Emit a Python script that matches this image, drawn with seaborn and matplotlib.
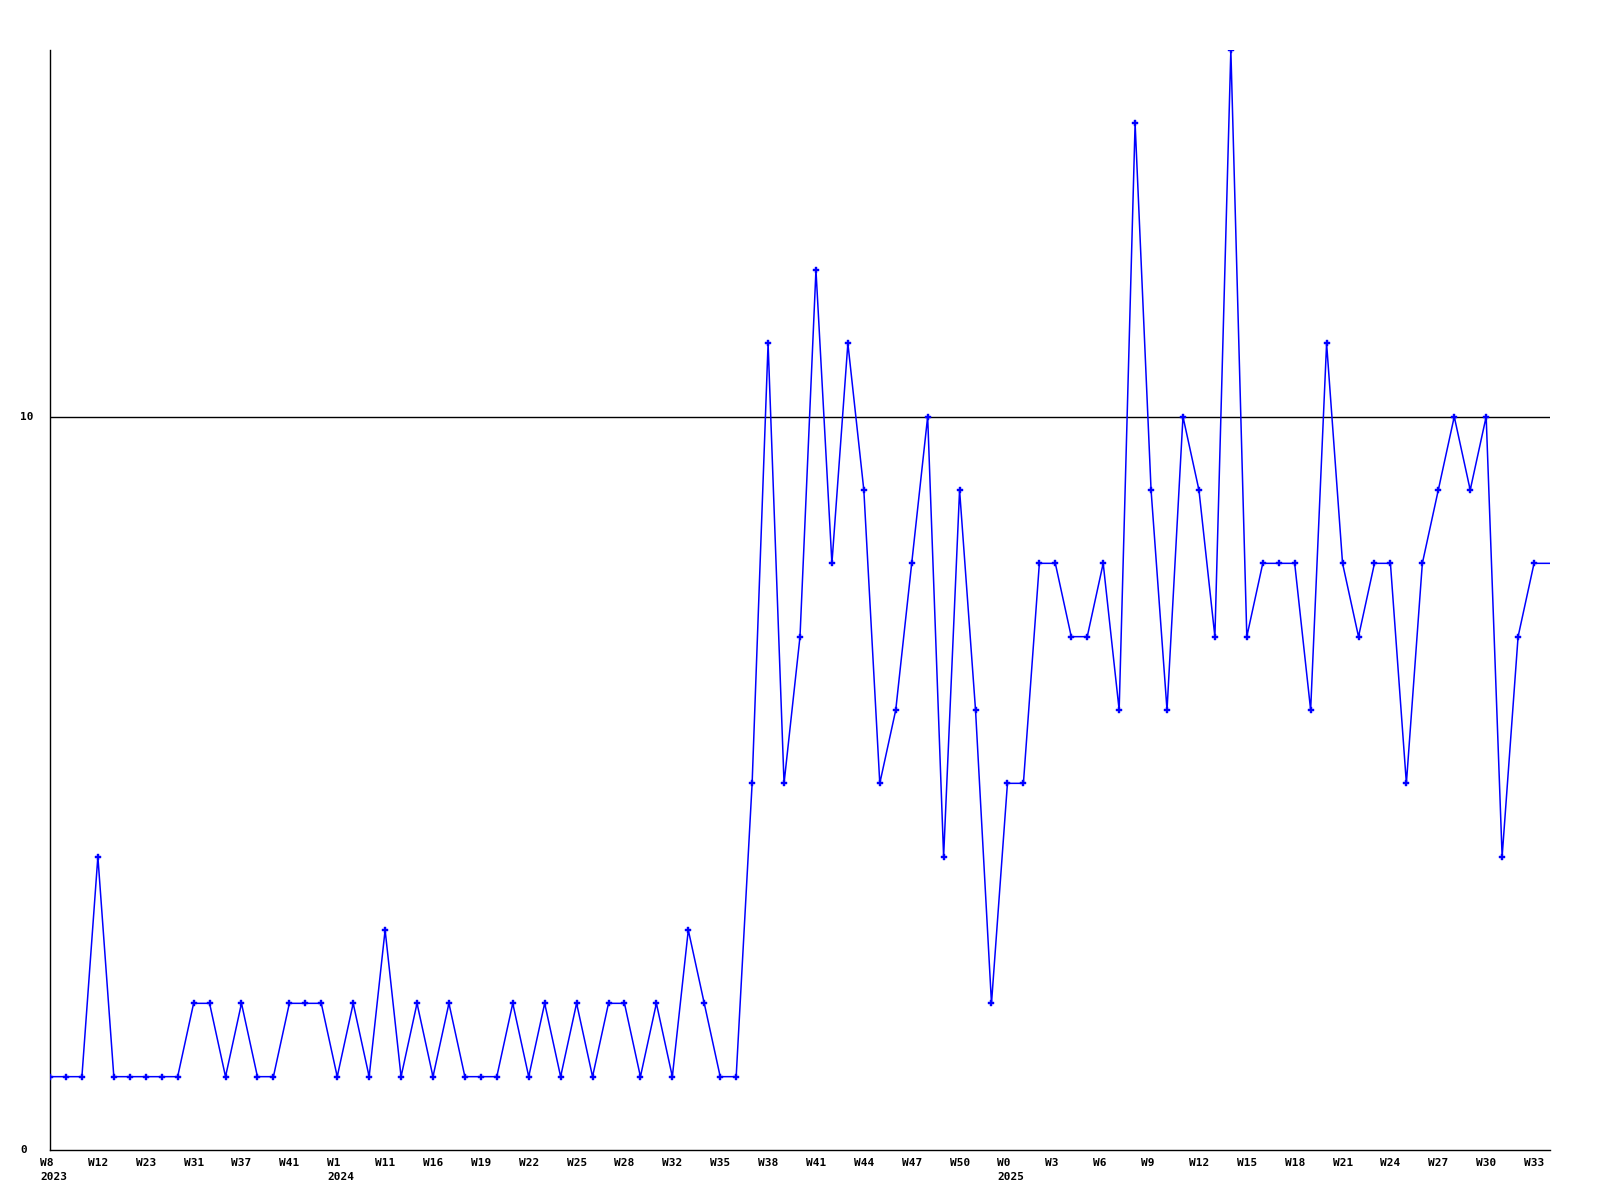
import matplotlib
matplotlib.use('Agg')
import matplotlib.pyplot as plt
import matplotlib.transforms as mtransforms
import numpy as np
import pandas as pd
import seaborn as sns

# weekly counts, one per point
counts = [1, 1, 1, 4, 1, 1, 1, 1, 1, 2,
          2, 1, 2, 1, 1, 2, 2, 2, 1, 2,
          1, 3, 1, 2, 1, 2, 1, 1, 1, 2,
          1, 2, 1, 2, 1, 2, 2, 1, 2, 1,
          3, 2, 1, 1, 5, 11, 5, 7, 12, 8,
          11, 9, 5, 6, 8, 10, 4, 9, 6, 2,
          5, 5, 8, 8, 7, 7, 8, 6, 14, 9,
          6, 10, 9, 7, 15, 7, 8, 8, 8, 6,
          11, 8, 7, 8, 8, 5, 8, 9, 10, 9,
          10, 4, 7, 8, 8]

week_labels = ['W8', 'W12', 'W23', 'W31', 'W37', 'W41', 'W1', 'W11',
               'W16', 'W19', 'W22', 'W25', 'W28', 'W32', 'W35', 'W38',
               'W41', 'W44', 'W47', 'W50', 'W0', 'W3', 'W6', 'W9',
               'W12', 'W15', 'W18', 'W21', 'W24', 'W27', 'W30', 'W33']
year_labels = {0: '2023', 6: '2024', 20: '2025'}

y_ticks = [0, 10]

df = pd.DataFrame({'idx': np.arange(len(counts)), 'count': counts})

sns.set_style('white')
plt.rcParams['font.family'] = ['DejaVu Sans Mono']

fig = plt.figure(figsize=(16, 12), dpi=100)
ax = fig.add_axes([50 / 1600, 50 / 1200, 1500 / 1600, 1100 / 1200])

ax.axhline(10, color='black', lw=1.0, zorder=1)
sns.lineplot(data=df, x='idx', y='count', ax=ax, color='#0000ff',
             lw=1.1, marker='P', markersize=4.5, markeredgewidth=0.3,
             markeredgecolor='#0000ff', markerfacecolor='#0000ff',
             markevery=list(range(len(counts) - 1)), zorder=3)

ax.set_xlim(0, len(counts) - 1)
ax.set_ylim(0, 15)
ax.set_xticks([])
ax.set_yticks([])

font = dict(fontsize=8, fontweight='bold', color='black')

# x labels: left aligned, 10px left of the point
xoff = mtransforms.ScaledTranslation(-10 / 100, -8 / 100, fig.dpi_scale_trans)
xtrans = ax.get_xaxis_transform() + xoff
tick_pos = list(range(0, len(counts) - 1, 3))
for i, (pos, lab) in enumerate(zip(tick_pos, week_labels)):
    txt = lab
    if i in year_labels:
        txt = lab + '\n' + year_labels[i]
    ax.text(pos, 0, txt, transform=xtrans, ha='left', va='top',
            linespacing=1.5, clip_on=False, **font)

# y labels: left aligned at x = 20px
ytrans = mtransforms.blended_transform_factory(fig.transFigure, ax.transData)
for t in y_ticks:
    ax.text(20 / 1600, t, str(t), transform=ytrans, ha='left',
            va='center', clip_on=False, **font)

for side in ['top', 'right']:
    ax.spines[side].set_visible(False)
for side in ['left', 'bottom']:
    ax.spines[side].set_color('black')
    ax.spines[side].set_linewidth(1.0)

ax.set_xlabel('')
ax.set_ylabel('')

fig.savefig('out.png', dpi=100)
